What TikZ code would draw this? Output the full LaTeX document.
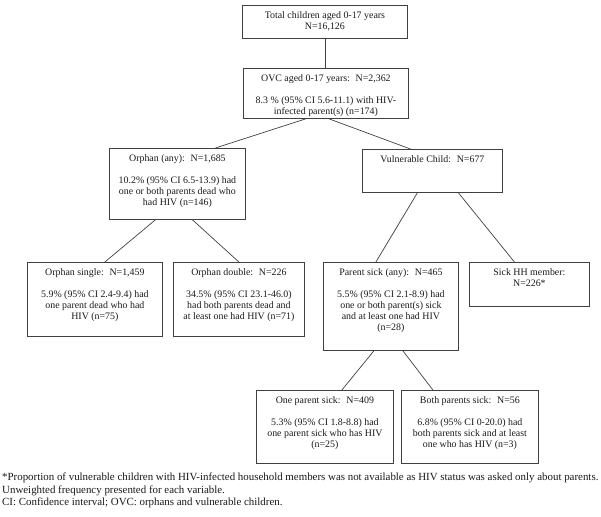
\documentclass[tikz,border=0pt]{standalone}
\usepackage{fontspec}
\setmainfont{Liberation Serif}
\begin{document}
\begin{tikzpicture}[x=1pt,y=-1pt,
  box/.style={draw=black!75, line width=0.8pt, anchor=north west, inner sep=0pt},
  txt/.style={anchor=north, align=center, inner sep=0pt, font=\fontsize{9.9}{11}\selectfont, text=black!90},
  conn/.style={draw=black!75, line width=0.7pt}]
\useasboundingbox (0,0) rectangle (601,516);
% boxes
\node[box, minimum width=165pt, minimum height=33pt] (tot) at (242,5) {};
\node[txt] (tot-t) at ([yshift=-6pt]tot.north) {Total children aged 0-17 years\\N=16,126};
\node[box, minimum width=165pt, minimum height=50pt] (ovc) at (243,68) {};
\node[txt] (ovc-t) at ([yshift=-6pt]ovc.north) {OVC aged 0-17 years:~ N=2,362\\[11pt]8.3 \% (95\% CI 5.6-11.1) with HIV-\\infected parent(s) (n=174)};
\node[box, minimum width=136pt, minimum height=71pt] (orph) at (109,148) {};
\node[txt] (orph-t) at ([yshift=-6pt]orph.north) {Orphan (any):~ N=1,685\\[11pt]10.2\% (95\% CI 6.5-13.9) had\\one or both parents dead who\\had HIV (n=146)};
\node[box, minimum width=140pt, minimum height=43pt] (vul) at (362,149) {};
\node[txt] (vul-t) at ([yshift=-6pt]vul.north) {Vulnerable Child:~ N=677};
\node[box, minimum width=135pt, minimum height=74pt] (single) at (27,262) {};
\node[txt] (single-t) at ([yshift=-6pt]single.north) {Orphan single:~ N=1,459\\[11pt]5.9\% (95\% CI 2.4-9.4) had\\one parent dead who had\\HIV (n=75)};
\node[box, minimum width=131pt, minimum height=74pt] (double) at (173,262) {};
\node[txt] (double-t) at ([yshift=-6pt]double.north) {Orphan double:~ N=226\\[11pt]34.5\% (95\% CI 23.1-46.0)\\had both parents dead and\\at least one had HIV (n=71)};
\node[box, minimum width=135pt, minimum height=88pt] (psick) at (323,262) {};
\node[txt] (psick-t) at ([yshift=-6pt]psick.north) {Parent sick (any):~ N=465\\[11pt]5.5\% (95\% CI 2.1-8.9) had\\one or both parent(s) sick\\and at least one had HIV\\(n=28)};
\node[box, minimum width=120pt, minimum height=44pt] (hh) at (469,262) {};
\node[txt] (hh-t) at ([yshift=-6pt]hh.north) {Sick HH member:\\N=226*};
\node[box, minimum width=137pt, minimum height=73pt] (one) at (256,390) {};
\node[txt] (one-t) at ([yshift=-6pt]one.north) {One parent sick:~ N=409\\[11pt]5.3\% (95\% CI 1.8-8.8) had\\one parent sick who has HIV\\(n=25)};
\node[box, minimum width=137pt, minimum height=73pt] (both) at (401,390) {};
\node[txt] (both-t) at ([yshift=-6pt]both.north) {Both parents sick:~ N=56\\[11pt]6.8\% (95\% CI 0-20.0) had\\both parents sick and at least\\one who has HIV (n=3)};
% footnote
\node[anchor=north west, align=left, inner sep=0pt, font=\fontsize{10.9}{12.5}\selectfont, text=black!90] (foot) at (2,473) {*Proportion of vulnerable children with HIV-infected household members was not available as HIV status was asked only about parents.\\Unweighted frequency presented for each variable.\\CI: Confidence interval; OVC: orphans and vulnerable children.};
% connectors
\draw[conn] (tot.south) -- (tot.south |- ovc.north);
\draw[conn] ([xshift=-20pt]ovc.south) -- ([xshift=38pt]orph.north);
\draw[conn] ([xshift=3pt]ovc.south) -- ([xshift=-22pt]vul.north);
\draw[conn] ([xshift=-22pt]orph.south) -- ([xshift=10pt]single.north);
\draw[conn] ([xshift=15pt]orph.south) -- (double.north);
\draw[conn] ([xshift=-15pt]vul.south) -- ([xshift=-15pt]psick.north);
\draw[conn] ([xshift=26pt]vul.south) -- ([xshift=-15pt]hh.north);
\draw[conn] ([xshift=-17pt]psick.south) -- ([xshift=17pt]one.north);
\draw[conn] ([xshift=12pt]psick.south) -- ([xshift=-37pt]both.north);
\end{tikzpicture}
\end{document}
